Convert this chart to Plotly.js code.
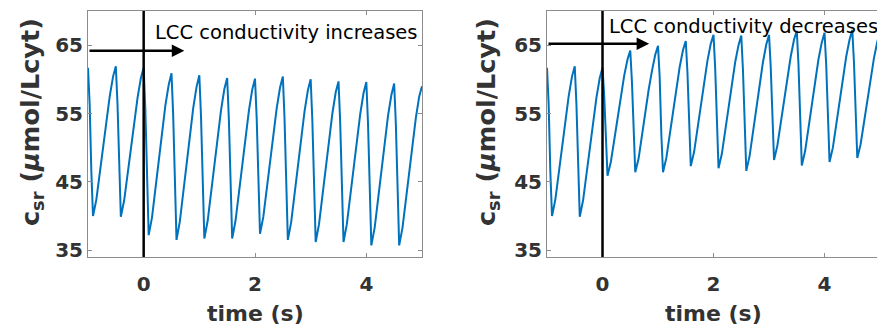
<!DOCTYPE html>
<html>
<head>
<meta charset="utf-8">
<script src="https://cdn.plot.ly/plotly-3.0.1.min.js"></script>
<style>html,body{margin:0;padding:0;background:#fff;}#plot{width:877px;height:328px;}</style>
</head>
<body>
<div id="plot"></div>
<script>
// time (s), shared by both panels
const time = [
-1, -0.97, -0.94, -0.91, -0.85, -0.79, -0.73, -0.67, -0.61, -0.55,
-0.5, -0.47, -0.44, -0.41, -0.35, -0.29, -0.23, -0.17, -0.11, -0.05,
0, 0.03, 0.06, 0.09, 0.15, 0.21, 0.27, 0.33, 0.39, 0.45,
0.5, 0.53, 0.56, 0.59, 0.65, 0.71, 0.77, 0.83, 0.89, 0.95,
1, 1.03, 1.06, 1.09, 1.15, 1.21, 1.27, 1.33, 1.39, 1.45,
1.5, 1.53, 1.56, 1.59, 1.65, 1.71, 1.77, 1.83, 1.89, 1.95,
2, 2.03, 2.06, 2.09, 2.15, 2.21, 2.27, 2.33, 2.39, 2.45,
2.5, 2.53, 2.56, 2.59, 2.65, 2.71, 2.77, 2.83, 2.89, 2.95,
3, 3.03, 3.06, 3.09, 3.15, 3.21, 3.27, 3.33, 3.39, 3.45,
3.5, 3.53, 3.56, 3.59, 3.65, 3.71, 3.77, 3.83, 3.89, 3.95,
4, 4.03, 4.06, 4.09, 4.15, 4.21, 4.27, 4.33, 4.39, 4.45,
4.5, 4.53, 4.56, 4.59, 4.65, 4.71, 4.77, 4.83, 4.89, 4.95,
5];

// c_sr (umol/Lcyt), LCC conductivity increases at t=0
const csrIncrease = [
61.7, 56.3, 46.5, 40.0, 42.4, 46.4, 50.3, 54.2, 57.5, 60.4,
61.9, 56.4, 46.5, 39.9, 42.3, 46.2, 50.1, 54.1, 57.3, 60.2,
61.7, 55.6, 44.5, 37.2, 39.8, 44.1, 48.3, 52.6, 56.2, 59.2,
60.9, 54.8, 43.8, 36.5, 39.2, 43.5, 47.8, 52.2, 55.8, 58.9,
60.6, 54.6, 43.9, 36.7, 39.3, 43.5, 47.7, 52.0, 55.5, 58.6,
60.2, 54.3, 43.7, 36.7, 39.3, 43.5, 47.7, 51.9, 55.4, 58.5,
60.1, 54.4, 44.2, 37.4, 39.9, 44.1, 48.2, 52.4, 55.8, 58.8,
60.4, 54.4, 43.7, 36.5, 39.1, 43.3, 47.5, 51.8, 55.3, 58.4,
60.0, 54.0, 43.3, 36.2, 38.8, 43.0, 47.2, 51.5, 55.0, 58.1,
59.7, 53.8, 43.2, 36.2, 38.8, 43.0, 47.2, 51.4, 54.9, 58.0,
59.6, 53.6, 42.9, 35.7, 38.3, 42.6, 46.8, 51.1, 54.7, 57.7,
59.4, 53.5, 42.8, 35.7, 38.3, 42.5, 46.7, 50.9, 54.4, 57.5,
59.0];

// c_sr (umol/Lcyt), LCC conductivity decreases at t=0
const csrDecrease = [
61.7, 56.3, 46.5, 40.0, 42.4, 46.4, 50.3, 54.2, 57.5, 60.4,
61.9, 56.4, 46.5, 39.9, 42.3, 46.2, 50.1, 54.1, 57.3, 60.2,
61.7, 57.7, 50.6, 45.9, 47.9, 51.2, 54.5, 57.8, 60.5, 62.9,
64.2, 59.7, 51.7, 46.4, 48.4, 51.8, 55.1, 58.4, 61.2, 63.6,
64.9, 60.3, 51.9, 46.4, 48.5, 52.0, 55.4, 58.9, 61.8, 64.3,
65.6, 61.0, 52.8, 47.3, 49.4, 52.9, 56.3, 59.8, 62.7, 65.2,
66.5, 61.6, 52.8, 47.0, 49.1, 52.6, 56.1, 59.6, 62.5, 65.0,
66.4, 61.4, 52.5, 46.6, 48.8, 52.4, 56.0, 59.5, 62.5, 65.1,
66.5, 61.9, 53.7, 48.2, 50.3, 53.7, 57.1, 60.5, 63.3, 65.8,
67.1, 62.2, 53.3, 47.4, 49.5, 53.0, 56.5, 60.0, 62.9, 65.4,
66.8, 62.1, 53.6, 47.9, 50.0, 53.5, 57.0, 60.4, 63.3, 65.8,
67.2, 62.5, 54.1, 48.5, 50.5, 53.8, 57.1, 60.4, 63.1, 65.5,
66.8];

const xTickVals = [0, 2, 4];
const yTickVals = [35, 45, 55, 65];
const panelTexts = ["LCC conductivity increases", "LCC conductivity decreases"];
const xTitle = "time (s)";
const yTitle = "c<sub>sr</sub> (<i>μ</i>mol/Lcyt)";

const W = 877, H = 328;
const lineColor = '#0072BD';
const axColor = '#8c8c8c';
const txtColor = '#333333';
const tickFont = {family: 'DejaVu Sans', size: 20, color: txtColor, weight: 'bold'};

function xAx(domain, range) {
  return {domain: domain, range: range, tickvals: xTickVals, ticks: 'inside', ticklen: 4,
    tickcolor: axColor, showline: true, linecolor: axColor, linewidth: 1, mirror: 'ticks',
    showgrid: false, zeroline: false, tickfont: tickFont, ticklabelstandoff: 9, fixedrange: true};
}
function yAx(domain, anchor, mirror) {
  return {domain: domain, range: [34, 70], tickvals: yTickVals, ticks: 'inside', ticklen: 4,
    tickcolor: axColor, showline: true, linecolor: axColor, linewidth: 1, mirror: mirror,
    showgrid: false, zeroline: false, tickfont: tickFont, anchor: anchor, fixedrange: true};
}

const yDom = [(H - 257) / H, (H - 11) / H];

const traces = [
  {x: time, y: csrIncrease, xaxis: 'x', yaxis: 'y', mode: 'lines', line: {color: lineColor, width: 2}, hoverinfo: 'skip'},
  {x: time, y: csrDecrease, xaxis: 'x2', yaxis: 'y2', mode: 'lines', line: {color: lineColor, width: 2}, hoverinfo: 'skip'}
];

const yTitleFont = {family: 'DejaVu Sans', size: 25.5, color: txtColor, weight: 'bold'};

const layout = {
  width: W, height: H,
  margin: {l: 0, r: 0, t: 0, b: 0},
  paper_bgcolor: '#fff', plot_bgcolor: '#fff',
  showlegend: false,
  xaxis: Object.assign(xAx([88 / W, 422 / W], [-1, 5]), {anchor: 'y'}),
  yaxis: yAx(yDom, 'x', 'ticks'),
  xaxis2: Object.assign(xAx([547 / W, 1], [-1, 4.945]), {anchor: 'y2'}),
  yaxis2: yAx(yDom, 'x2', false),
  shapes: [
    {type: 'line', xref: 'x', yref: 'y domain', x0: 0, x1: 0, y0: 0, y1: 1, line: {color: '#000', width: 2.5}},
    {type: 'line', xref: 'x2', yref: 'y2 domain', x0: 0, x1: 0, y0: 0, y1: 1, line: {color: '#000', width: 2.5}}
  ],
  annotations: [
    {xref: 'x', yref: 'y', x: 0.73, y: 64.2, axref: 'x', ayref: 'y', ax: -1, ay: 64.2, text: '',
      showarrow: true, arrowhead: 2, arrowsize: 1, arrowwidth: 2.5, arrowcolor: '#000', standoff: 0, startstandoff: 0},
    {xref: 'x2', yref: 'y2', x: 0.84, y: 65.2, axref: 'x2', ayref: 'y2', ax: -1, ay: 65.2, text: '',
      showarrow: true, arrowhead: 2, arrowsize: 1, arrowwidth: 2.5, arrowcolor: '#000', standoff: 0, startstandoff: 0},
    {xref: 'x', yref: 'y', x: 0.17, y: 66.9, xanchor: 'left', yanchor: 'middle', text: panelTexts[0],
      showarrow: false, font: {family: 'DejaVu Sans', size: 19.5, color: '#000'}},
    {xref: 'x2', yref: 'y2', x: 0.08, y: 67.8, xanchor: 'left', yanchor: 'middle', text: panelTexts[1],
      showarrow: false, font: {family: 'DejaVu Sans', size: 19.5, color: '#000'}},
    {xref: 'x', yref: 'paper', x: 2, y: (H - 313) / H, xanchor: 'center', yanchor: 'middle', text: xTitle,
      showarrow: false, font: {family: 'DejaVu Sans', size: 22, color: txtColor, weight: 'bold'}},
    {xref: 'x2', yref: 'paper', x: 2, y: (H - 313) / H, xanchor: 'center', yanchor: 'middle', text: xTitle,
      showarrow: false, font: {family: 'DejaVu Sans', size: 22, color: txtColor, weight: 'bold'}},
    {xref: 'paper', yref: 'paper', x: 31 / W, y: (H - 122) / H, xanchor: 'center', yanchor: 'middle', textangle: -90,
      text: yTitle, showarrow: false, font: yTitleFont},
    {xref: 'paper', yref: 'paper', x: 487 / W, y: (H - 122) / H, xanchor: 'center', yanchor: 'middle', textangle: -90,
      text: yTitle, showarrow: false, font: yTitleFont}
  ]
};

Plotly.newPlot('plot', traces, layout, {staticPlot: true, displayModeBar: false});
</script>
</body>
</html>
